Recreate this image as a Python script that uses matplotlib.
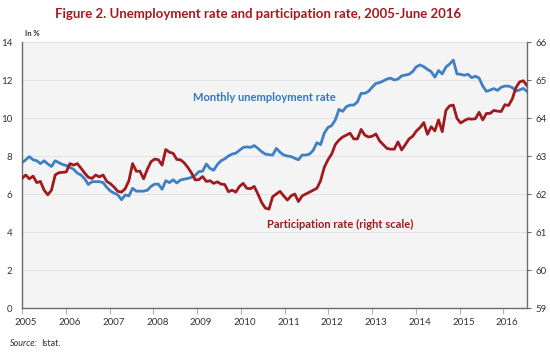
import numpy as np
import matplotlib
matplotlib.use('Agg')
import matplotlib.pyplot as plt
from matplotlib.transforms import ScaledTranslation

plt.rcParams['font.family'] = ['Lato', 'DejaVu Sans']

# monthly values, Jan 2005 - Jun 2016
years = [str(y) for y in range(2005, 2017)]

unemployment = [
    7.65, 7.8, 7.97, 7.8, 7.75, 7.6, 7.75, 7.58, 7.45, 7.75, 7.65, 7.55,         # 2005
    7.5, 7.4, 7.3, 7.1, 7.0, 6.8, 6.5, 6.65, 6.65, 6.65, 6.6, 6.35,              # 2006
    6.15, 6.05, 5.95, 5.7, 5.95, 5.9, 6.3, 6.15, 6.15, 6.15, 6.2, 6.4,           # 2007
    6.52, 6.52, 6.25, 6.7, 6.6, 6.75, 6.58, 6.74, 6.78, 6.82, 6.88, 6.98,        # 2008
    7.18, 7.2, 7.58, 7.35, 7.25, 7.55, 7.75, 7.85, 8.0, 8.1, 8.15, 8.3,          # 2009
    8.45, 8.48, 8.45, 8.55, 8.4, 8.23, 8.1, 8.07, 8.05, 8.4, 8.2, 8.05,          # 2010
    8.0, 7.97, 7.88, 7.8, 8.05, 8.05, 8.1, 8.3, 8.7, 8.6, 9.2, 9.5,              # 2011
    9.6, 9.9, 10.45, 10.35, 10.6, 10.68, 10.68, 10.85, 11.3, 11.3, 11.4, 11.62,  # 2012
    11.82, 11.86, 11.95, 12.05, 12.1, 12.0, 12.05, 12.22, 12.26, 12.3, 12.45, 12.7,  # 2013
    12.79, 12.7, 12.56, 12.44, 12.15, 12.5, 12.32, 12.68, 12.84, 13.05, 12.32, 12.3,  # 2014
    12.25, 12.3, 12.12, 12.2, 12.1, 11.68, 11.4, 11.47, 11.55, 11.45, 11.62, 11.68,  # 2015
    11.68, 11.6, 11.42, 11.48, 11.56, 11.4,                                      # 2016
]

participation = [
    62.41, 62.5, 62.4, 62.47, 62.3, 62.33, 62.1, 61.98, 62.1, 62.5, 62.56, 62.57,
    62.58, 62.8, 62.76, 62.8, 62.68, 62.55, 62.44, 62.41, 62.5, 62.45, 62.5, 62.33,
    62.27, 62.18, 62.07, 62.05, 62.14, 62.35, 62.8, 62.6, 62.6, 62.4, 62.65, 62.85,
    62.92, 62.9, 62.76, 63.17, 63.1, 63.07, 62.91, 62.9, 62.82, 62.7, 62.55, 62.37,
    62.38, 62.46, 62.33, 62.35, 62.28, 62.32, 62.26, 62.25, 62.06, 62.1, 62.05, 62.2,
    62.28, 62.15, 62.14, 62.2, 62.0, 61.78, 61.63, 61.6, 61.93, 62.0, 62.07, 61.95,
    61.84, 61.95, 62.0, 61.8, 61.95, 62.0, 62.05, 62.1, 62.15, 62.35, 62.7, 62.9,
    63.05, 63.3, 63.42, 63.5, 63.55, 63.6, 63.45, 63.45, 63.7, 63.55, 63.5, 63.52,
    63.58, 63.4, 63.3, 63.2, 63.18, 63.18, 63.37, 63.16, 63.3, 63.45, 63.52, 63.66,
    63.75, 63.88, 63.57, 63.77, 63.66, 63.95, 63.64, 64.2, 64.32, 64.34, 63.99, 63.87,
    63.93, 63.98, 63.97, 63.98, 64.15, 63.95, 64.12, 64.12, 64.2, 64.18, 64.17, 64.35,
    64.33, 64.5, 64.8, 64.95, 64.98, 64.85,
]

BLUE = '#3f7fc4'
RED = '#9e1a1d'
AXIS = '#6b6b6b'
TXT = '#333333'

fig = plt.figure(figsize=(5.5, 3.57), dpi=100)
ax = fig.add_axes([22 / 550, 1 - 308 / 357, 505 / 550, 266 / 357])
ax.set_facecolor('#f4f4f4')

x = np.arange(len(unemployment))
ax.plot(x, unemployment, color=BLUE, lw=2.0, solid_joinstyle='round')
ax.set_xlim(0, len(unemployment) - 1)
ax.set_ylim(0, 14)
ax.set_yticks(range(0, 15, 2))
ax.grid(axis='y', color='#e3e3e3', lw=0.8)
ax.set_axisbelow(True)

ticks = np.arange(len(years)) * 11.87
ax.set_xticks(ticks)
ax.set_xticklabels(years)
ax.tick_params(axis='x', length=4, width=0.8, color='#b0b0b0', labelsize=7, labelcolor=TXT, pad=3)
ax.tick_params(axis='y', length=0, labelsize=7, labelcolor=TXT, pad=7)
for lab in ax.get_xticklabels():
    lab.set_transform(lab.get_transform() + ScaledTranslation(4 / 100, 0, fig.dpi_scale_trans))

for s in ['top', 'right']:
    ax.spines[s].set_visible(False)
for s in ['left', 'bottom']:
    ax.spines[s].set_color(AXIS)
    ax.spines[s].set_linewidth(1.0)

ax2 = ax.twinx()
ax2.plot(x, participation, color=RED, lw=2.0, solid_joinstyle='round')
ax2.set_ylim(59, 66)
ax2.set_yticks(range(59, 67))
ax2.tick_params(axis='y', length=3, width=0.8, color=AXIS, labelsize=7, labelcolor=TXT, pad=3)
for s in ['top', 'left', 'bottom']:
    ax2.spines[s].set_visible(False)
ax2.spines['right'].set_color(AXIS)
ax2.spines['right'].set_linewidth(1.0)

fig.text(258 / 550, 1 - 14 / 357, 'Figure 2. Unemployment rate and participation rate, 2005-June 2016',
         ha='center', va='center', fontsize=9.5, fontweight='bold', color='#a5191e')
fig.text(25 / 550, 1 - 33 / 357, 'In %', ha='left', va='center', fontsize=5.5,
         fontweight='bold', color=TXT)

ax.text(0.48, 0.79, 'Monthly unemployment rate', transform=ax.transAxes,
        ha='center', va='center', fontsize=8, fontweight='bold', color='#2f78c2')
ax.text(0.63, 0.315, 'Participation rate (right scale)', transform=ax.transAxes,
        ha='center', va='center', fontsize=8, fontweight='bold', color=RED)

fig.text(10 / 550, 1 - 344 / 357, 'Source:', ha='left', va='center', fontsize=6.5,
         style='italic', color=TXT)
fig.text(41 / 550, 1 - 344 / 357, 'Istat.', ha='left', va='center', fontsize=6.5, color=TXT)

fig.savefig('out.png', dpi=100)
